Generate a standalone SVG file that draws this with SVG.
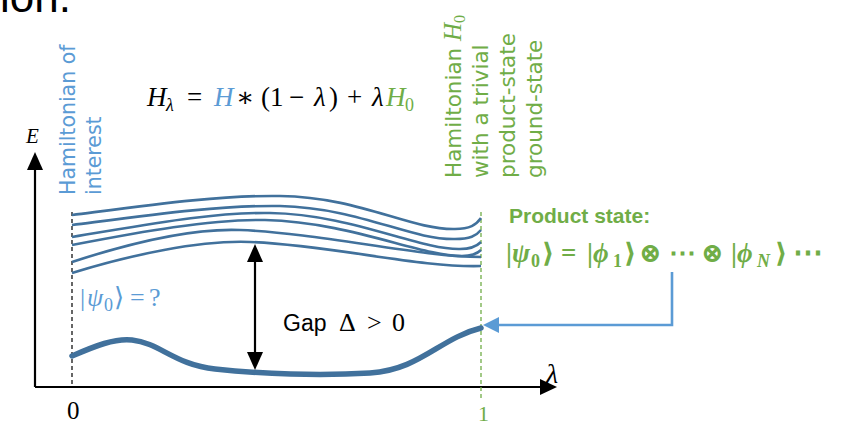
<svg xmlns="http://www.w3.org/2000/svg" width="846" height="427" viewBox="0 0 846 427">
<defs>
<style>
.ax{stroke:#000;stroke-width:2.2;fill:none}
.lvl{stroke:#41719c;stroke-width:2.6;fill:none}
.gs{stroke:#41719c;stroke-width:5.5;fill:none;stroke-linecap:round}
.dashk{stroke:#000;stroke-width:1.2;stroke-dasharray:4 3;fill:none}
.dashg{stroke:#70ad47;stroke-width:1.3;stroke-dasharray:4 3;fill:none}
.rotb{font-family:"DejaVu Sans",sans-serif;font-size:20.5px;fill:#5b9bd5}
.rotg{font-family:"DejaVu Sans",sans-serif;font-size:21.5px;fill:#70ad47}
.math{font-family:"Liberation Serif","DejaVu Serif",serif}
.sans{font-family:"Liberation Sans","DejaVu Sans",sans-serif}
.it{font-style:italic}
</style>
</defs>
<rect width="846" height="427" fill="#fff"/>
<text class="sans" x="0" y="12" font-size="44" fill="#000">ion.</text>

<g id="axes">
<path class="ax" d="M35,387 L35,170"/>
<path d="M27,170 L35,152 L43,170 z" fill="#000"/>
<path class="ax" d="M35,387 L540,387"/>
<path d="M540,379 L557,387 L540,395 z" fill="#000"/>
<text class="math it" x="26" y="143" font-size="21">E</text>
<text class="math it" x="546" y="383" font-size="28">λ</text>
<text class="math" x="67" y="419" font-size="25">0</text>
<text class="math" x="478" y="421" font-size="22" fill="#70ad47">1</text>
</g>

<g id="guides">
<path class="dashk" d="M72,212 L72,387"/>
<path class="dashg" d="M481,212 L481,400"/>
</g>

<g id="formula" class="math" font-size="27">
<text x="147" y="106" class="it">H</text>
<text x="166" y="111" class="it" font-size="18">λ</text>
<text x="187" y="106">=</text>
<text x="214" y="106" class="it" fill="#5b9bd5">H</text>
<text x="236" y="106">∗</text>
<text x="261" y="106">(</text>
<text x="270" y="106">1</text>
<text x="289" y="106">−</text>
<text x="314" y="106" class="it">λ</text>
<text x="329" y="106">)</text>
<text x="347" y="106">+</text>
<text x="372" y="106" class="it">λ</text>
<text x="386" y="106" class="it" fill="#70ad47">H</text>
<text x="405" y="111" font-size="18" fill="#70ad47">0</text>
</g>

<g id="label-interest">
<text class="rotb" transform="translate(75,195) rotate(-90)">Hamiltonian of</text>
<text class="rotb" transform="translate(101,195) rotate(-90)">interest</text>
</g>

<g id="label-h0">
<text class="rotg" transform="translate(461,178) rotate(-90)">Hamiltonian <tspan class="math it" font-size="25">H</tspan><tspan font-size="16" dy="4" class="math">0</tspan></text>
<text class="rotg" transform="translate(488,178) rotate(-90)">with a trivial</text>
<text class="rotg" transform="translate(515,178) rotate(-90)">product-state</text>
<text class="rotg" transform="translate(542,178) rotate(-90)">ground-state</text>
</g>

<g id="excited-levels">
<path class="lvl" d="M72,215 C150,205 220,195 280,196 C360,197 410,230 455,229 C470,229 476,225 481,218"/>
<path class="lvl" d="M72,225 C150,215 220,205 280,206 C360,208 410,240 455,239 C470,239 476,236 481,230"/>
<path class="lvl" d="M72,237 C140,226 210,212 270,213 C350,214 420,250 460,249 C472,249 477,246 481,242"/>
<path class="lvl" d="M72,245 C140,232 210,219 265,220 C350,222 420,256 462,256 C473,256 478,253 481,250"/>
<path class="lvl" d="M72,262 C130,243 190,228 240,230 C320,233 420,257 481,257"/>
<path class="lvl" d="M72,273 C130,255 200,240 250,242 C330,245 420,268 481,266"/>
</g>

<g id="ground-state">
<path class="gs" d="M72,356 C95,346 115,338 132,340 C160,343 175,365 215,369 C260,374 320,376 370,373 C420,370 440,338 481,328"/>
</g>

<g id="gap">
<path class="ax" d="M255,258 L255,356"/>
<path d="M247,262 L255,244 L263,262 z" fill="#000"/>
<path d="M247,352 L255,370 L263,352 z" fill="#000"/>
<text class="sans" x="283" y="331" font-size="23">Gap</text>
<text class="math" x="339" y="331" font-size="26">Δ</text>
<text class="math" x="367" y="331" font-size="26">&gt;</text>
<text class="math" x="392" y="331" font-size="26">0</text>
</g>

<g id="psi-unknown" class="math" fill="#5b9bd5" font-size="26">
<text x="80" y="306">|</text>
<text x="87" y="306" class="it">ψ</text>
<text x="104" y="311" font-size="18">0</text>
<text x="114" y="306">⟩</text>
<text x="130" y="306">=</text>
<text x="149" y="306">?</text>
</g>

<g id="product-state" fill="#70ad47" font-weight="bold">
<text class="sans" x="509" y="223" font-size="21">Product state:</text>
<g class="math" font-size="27">
<text x="506" y="262">|</text>
<text x="512" y="262" class="it">ψ</text>
<text x="531" y="267" font-size="18">0</text>
<text x="542" y="262">⟩</text>
<text x="561" y="262">=</text>
<text x="587" y="262">|</text>
<text x="593" y="262" class="it">ϕ</text>
<text x="613" y="267" font-size="18">1</text>
<text x="624" y="262">⟩</text>
<text x="639" y="262">⊗</text>
<text x="669" y="262">⋯</text>
<text x="701" y="262">⊗</text>
<text x="731" y="262">|</text>
<text x="737" y="262" class="it">ϕ</text>
<text x="757" y="267" font-size="18" class="it">N</text>
<text x="775" y="262">⟩</text>
<text x="793" y="262" font-size="30">⋯</text>
</g>
</g>

<g id="connectors">
<path d="M672,272 L672,325 L498,325" fill="none" stroke="#5b9bd5" stroke-width="2.6"/>
<path d="M499,317 L483,325 L499,333 z" fill="#5b9bd5"/>
</g>
</svg>
